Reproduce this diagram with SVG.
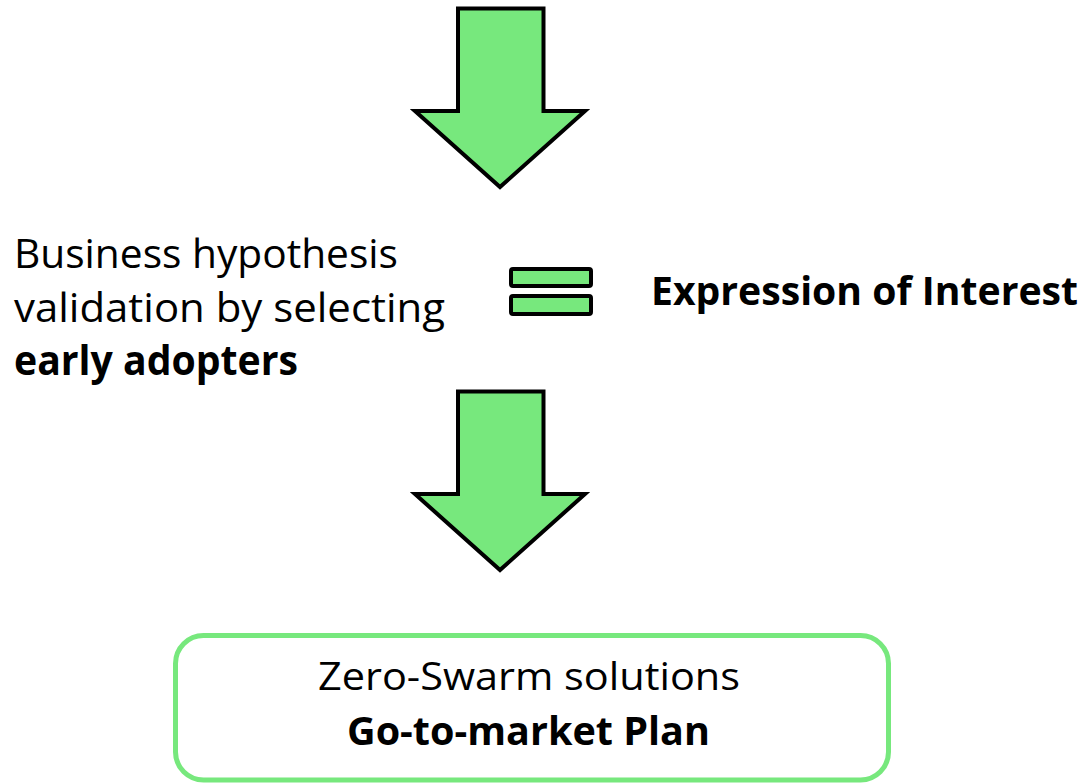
<svg xmlns="http://www.w3.org/2000/svg" width="1086" height="784" viewBox="0 0 1086 784">
<style>
.arrow{fill:#77E87D;stroke:#000;stroke-width:4;stroke-linejoin:miter}
.bar{fill:#77E87D;stroke:#000;stroke-width:4}
.t{font-family:"Open Sans","Noto Sans","Liberation Sans",sans-serif;font-size:41px;fill:#000}
.b{font-weight:bold}
</style>
<rect width="1086" height="784" fill="#fff"/>
<g id="connectors">
<polygon class="arrow" points="458,8.5 543.5,8.5 543.5,111 585,111 500,187 415,111 458,111"/>
<polygon class="arrow" points="458,391.5 543.5,391.5 543.5,494 585,494 500,570 415,494 458,494"/>
</g>
<g id="hypothesis">
<text class="t" x="14" y="268" textLength="384" lengthAdjust="spacingAndGlyphs">Business hypothesis</text>
<text class="t" x="14" y="322" textLength="431" lengthAdjust="spacingAndGlyphs">validation by selecting</text>
<text class="t b" x="14" y="375" textLength="284" lengthAdjust="spacingAndGlyphs">early adopters</text>
</g>
<g id="equals">
<rect class="bar" x="511" y="269" width="80" height="17" rx="2"/>
<rect class="bar" x="511" y="296" width="80" height="18" rx="2"/>
</g>
<g id="eoi">
<text class="t b" x="651" y="305" textLength="427" lengthAdjust="spacingAndGlyphs" style="font-size:40px">Expression of Interest</text>
</g>
<g id="plan">
<rect x="175.5" y="635.5" width="713" height="144.5" rx="28" fill="#fff" stroke="#77E87D" stroke-width="5"/>
<text class="t" x="318" y="690" textLength="422" lengthAdjust="spacingAndGlyphs" style="font-size:38px">Zero-Swarm solutions</text>
<text class="t b" x="347" y="745" textLength="363" lengthAdjust="spacingAndGlyphs" style="font-size:40px">Go-to-market Plan</text>
</g>
</svg>
